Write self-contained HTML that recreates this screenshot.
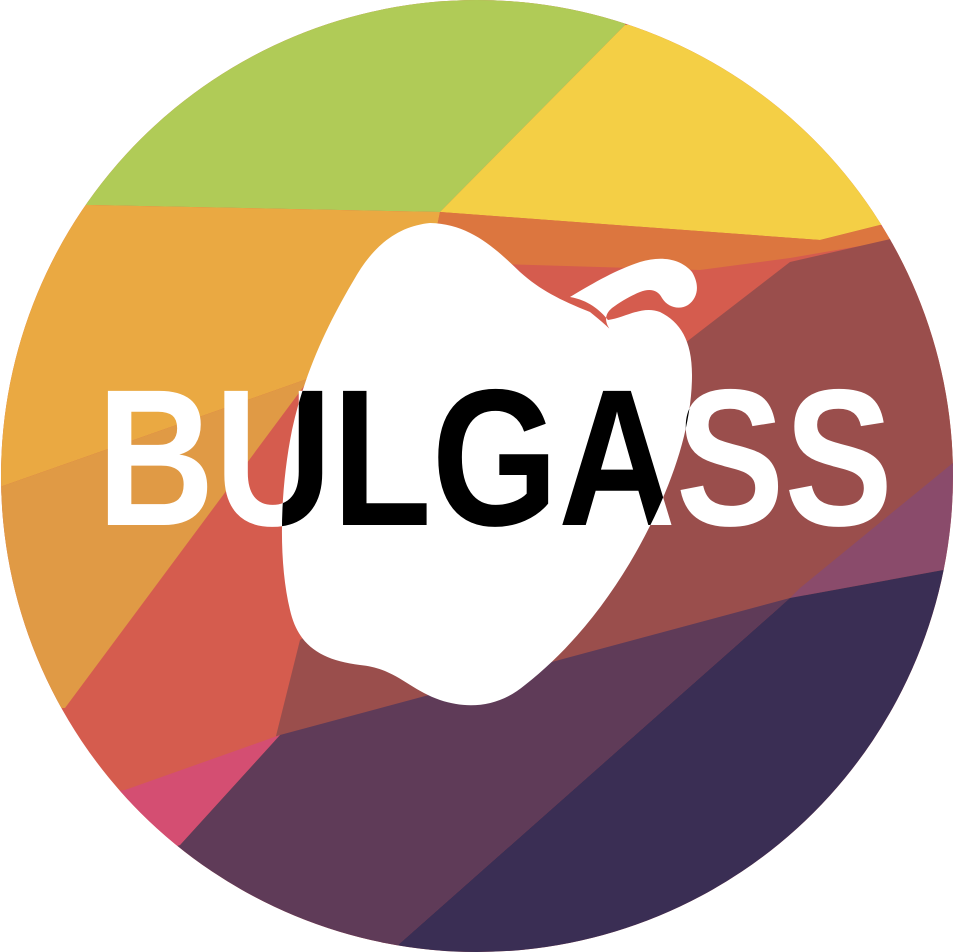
<!DOCTYPE html>
<html><head><meta charset="utf-8"><style>html,body{margin:0;padding:0;background:#fff}svg{display:block}</style></head>
<body>
<svg width="954" height="952" viewBox="0 0 954 952">
<defs>
<clipPath id="circ"><circle cx="477" cy="476" r="476"/></clipPath>
<clipPath id="pep"><path id="pp" d="M430,223 C400,226 375,243 355,278 C330,320 305,370 292,430 C280,490 278,560 290,610 C298,645 320,660 360,665 C395,668 410,690 440,700 C470,710 500,706 525,685 C570,650 610,600 640,545 C670,490 692,430 692,375 C692,340 680,322 660,312 C642,305 625,318 608,320 C600,310 588,300 570,297 C590,285 615,270 640,262 C660,256 680,258 692,272 C700,285 698,298 688,305 C680,310 668,308 662,298 C658,290 650,288 640,292 C630,296 620,302 612,308 C600,318 608,330 620,340 C612,330 600,320 590,312 C560,300 540,290 520,272 C495,248 470,224 430,223 Z"/></clipPath>
</defs>
<g clip-path="url(#circ)">
<rect x="0" y="0" width="954" height="952" fill="#d55c4e"/>
<polygon points="0,0 640,0 625,25 440,212 90,205 0,205" fill="#b0cb57"/>
<polygon points="625,25 954,0 954,225 880,225 820,240 440,212" fill="#f4cf45"/>
<polygon points="0,205 90,205 440,212 430,260 310,378 0,487" fill="#eaa942"/>
<polygon points="0,487 310,378 65,708 0,708" fill="#e09a45"/>
<polygon points="440,212 820,240 880,225 895,240 790,258 700,270 430,262" fill="#dc763f"/>
<polygon points="790,262 895,238 954,240 954,465 800,600 560,680 270,760 300,640" fill="#9a4e4c"/>
<polygon points="954,462 954,568 790,598 800,588" fill="#8a4b6b"/>
<polygon points="280,735 790,598 390,952 0,952 0,900 180,845" fill="#5f3b58"/>
<polygon points="790,598 954,568 954,952 390,952" fill="#3a2e54"/>
<polygon points="0,800 125,790 280,735 180,845 0,900" fill="#d44e72"/>
</g>
<use href="#pp" fill="#fff"/>
<text x="97" y="525" font-family="Liberation Sans, sans-serif" font-weight="bold" font-size="195" textLength="796" lengthAdjust="spacingAndGlyphs" fill="#fff">BULGASS</text>
<g clip-path="url(#pep)">
<text x="97" y="525" font-family="Liberation Sans, sans-serif" font-weight="bold" font-size="195" textLength="796" lengthAdjust="spacingAndGlyphs" fill="#000">BULGASS</text>
</g>
</svg>
</body></html>
